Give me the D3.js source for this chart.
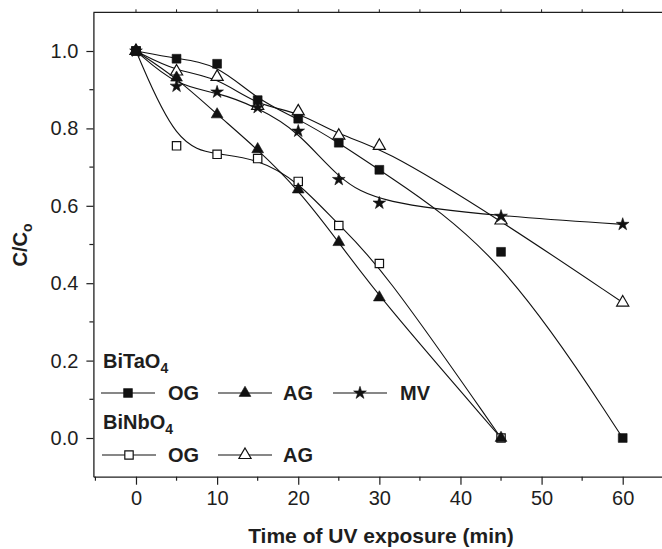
<!DOCTYPE html>
<html><head><meta charset="utf-8">
<script src="https://cdn.jsdelivr.net/npm/d3@7"></script>
<style>
html,body{margin:0;padding:0;background:#fff;}
svg{display:block;font-family:"Liberation Sans",Arial,sans-serif;}
</style></head>
<body>
<svg id="chart" width="662" height="549"></svg>
<script>
// ---- data ----
const times = [0, 5, 10, 15, 20, 25, 30, 45, 60];
const taOG = [1.0, 0.980, 0.967, 0.873, 0.825, 0.763, 0.693, 0.481, 0.0];
const taAG = [1.0, 0.931, 0.836, 0.746, 0.642, 0.506, 0.363, 0.0];
const taMV = [1.0, 0.909, 0.894, 0.854, 0.793, 0.668, 0.607, 0.573, 0.552];
const nbOG = [1.0, 0.755, 0.733, 0.722, 0.663, 0.549, 0.451, 0.0];
const nbAG = [1.0, 0.947, 0.933, 0.858, 0.844, 0.781, 0.755, 0.562, 0.350];
const xMajorTicks = [0, 10, 20, 30, 40, 50, 60];
const xMinorTicks = [-5, 5, 15, 25, 35, 45, 55, 65];
const yMajorTicks = [0.0, 0.2, 0.4, 0.6, 0.8, 1.0];
const yMinorTicks = [0.1, 0.3, 0.5, 0.7, 0.9];
const xTitle = "Time of UV exposure (min)";

const series = [
  {name:"taOG", vals:taOG, sym:d3.symbolSquare, size:78, fill:"#111"},
  {name:"taAG", vals:taAG, sym:d3.symbolTriangle, size:60, fill:"#111"},
  {name:"taMV", vals:taMV, sym:d3.symbolStar, size:50, fill:"#111"},
  {name:"nbOG", vals:nbOG, sym:d3.symbolSquare, size:70, fill:"#fff"},
  {name:"nbAG", vals:nbAG, sym:d3.symbolTriangle, size:64, fill:"#fff"}
];
const markerOrder = [3, 4, 0, 1, 2];

const svg = d3.select("#chart");
const x = d3.scaleLinear().domain([-5.25, 65.25]).range([93.4, 665.3]);
const y = d3.scaleLinear().domain([-0.1, 1.1]).range([476.7, 12.3]);
const ink = "#1e1e1e";

// frame: top line and ticks
svg.append("line").attr("x1", x(-5.25)).attr("x2", 662).attr("y1", y(1.1)).attr("y2", y(1.1))
  .attr("stroke", ink).attr("stroke-width", 1.3);
svg.append("g").selectAll("line").data(xMajorTicks.concat(xMinorTicks).filter(d=>d>-5)).join("line")
  .attr("x1", d=>x(d)).attr("x2", d=>x(d)).attr("y1", y(1.1)).attr("y2", y(1.1)-3)
  .attr("stroke", ink).attr("stroke-width", 1);

// bottom axis
const gx = svg.append("g").attr("transform", `translate(0,${y(-0.1)})`);
gx.call(d3.axisBottom(x).tickValues(xMajorTicks).tickSize(8).tickSizeOuter(0).tickFormat(d3.format("d")));
gx.select(".domain").attr("stroke", ink).attr("stroke-width", 1.3);
gx.selectAll(".tick line").attr("stroke", ink).attr("stroke-width", 1.2);
gx.selectAll(".tick text").attr("font-size", 20).attr("fill", ink).attr("font-family", "Liberation Sans, Arial, sans-serif").attr("y", 14).attr("dy", "0.71em");
gx.append("g").selectAll("line").data(xMinorTicks).join("line")
  .attr("x1", d=>x(d)).attr("x2", d=>x(d)).attr("y1", 0).attr("y2", 4)
  .attr("stroke", ink).attr("stroke-width", 1.2);

// left axis
const gy = svg.append("g").attr("transform", `translate(${x(-5.25)},0)`);
gy.call(d3.axisLeft(y).tickValues(yMajorTicks).tickSize(7).tickSizeOuter(0).tickFormat(d3.format(".1f")));
gy.select(".domain").attr("stroke", ink).attr("stroke-width", 1.3);
gy.selectAll(".tick line").attr("stroke", ink).attr("stroke-width", 1.2);
gy.selectAll(".tick text").attr("font-size", 20).attr("fill", ink).attr("font-family", "Liberation Sans, Arial, sans-serif").attr("x", -15);
gy.append("g").selectAll("line").data(yMinorTicks).join("line")
  .attr("x1", 0).attr("x2", -4).attr("y1", d=>y(d)).attr("y2", d=>y(d))
  .attr("stroke", ink).attr("stroke-width", 1.2);

// axis titles
svg.append("text").attr("x", 381).attr("y", 543).attr("text-anchor", "middle")
  .attr("font-size", 21).attr("font-weight", "bold").attr("fill", ink).text(xTitle);
const yt = svg.append("text").attr("transform", "translate(27,245) rotate(-90)")
  .attr("text-anchor", "middle").attr("font-size", 20).attr("font-weight", "bold").attr("fill", ink);
yt.append("tspan").text("C/C");
yt.append("tspan").attr("font-size", 14).attr("dy", 5).text("o");

// curves
const line = d3.line().x(d=>x(d[0])).y(d=>y(d[1])).curve(d3.curveBasis);
const plot = svg.append("g");
series.forEach(s=>{
  const pts = s.vals.map((v,i)=>[times[i], v]);
  plot.append("path").attr("d", line(pts)).attr("fill", "none").attr("stroke", "#111").attr("stroke-width", 1.1);
});
markerOrder.forEach(k=>{
  const s = series[k];
  const pts = s.vals.map((v,i)=>[times[i], v]);
  plot.append("g").selectAll("path").data(pts).join("path")
    .attr("transform", d=>`translate(${x(d[0])},${y(d[1])})`)
    .attr("d", d3.symbol().type(s.sym).size(s.size))
    .attr("fill", s.fill).attr("stroke", "#111").attr("stroke-width", s.fill === "#fff" ? 1.2 : 0.6);
});

// legend
const legend = svg.append("g").attr("font-weight", "bold").attr("fill", ink);
function heading(xp, yp, main, sub){
  const t = legend.append("text").attr("x", xp).attr("y", yp).attr("font-size", 20);
  t.append("tspan").text(main);
  t.append("tspan").attr("font-size", 14).attr("dy", 5).text(sub);
}
function item(cx, cy, s, label, tx){
  legend.append("line").attr("x1", cx-27).attr("x2", cx+27).attr("y1", cy).attr("y2", cy)
    .attr("stroke", "#111").attr("stroke-width", 1.1);
  legend.append("path").attr("transform", `translate(${cx},${cy})`)
    .attr("d", d3.symbol().type(s.sym).size(s.size)).attr("fill", s.fill)
    .attr("stroke", "#111").attr("stroke-width", s.fill === "#fff" ? 1.2 : 0.6);
  legend.append("text").attr("x", tx).attr("y", cy+7).attr("font-size", 20).text(label);
}
heading(103, 368, "BiTaO", "4");
item(128, 393, series[0], "OG", 168);
item(245, 393, series[1], "AG", 283);
item(360, 393, series[2], "MV", 400);
heading(103, 429, "BiNbO", "4");
item(129, 455, series[3], "OG", 168);
item(245, 455, series[4], "AG", 283);
</script>
</body></html>
